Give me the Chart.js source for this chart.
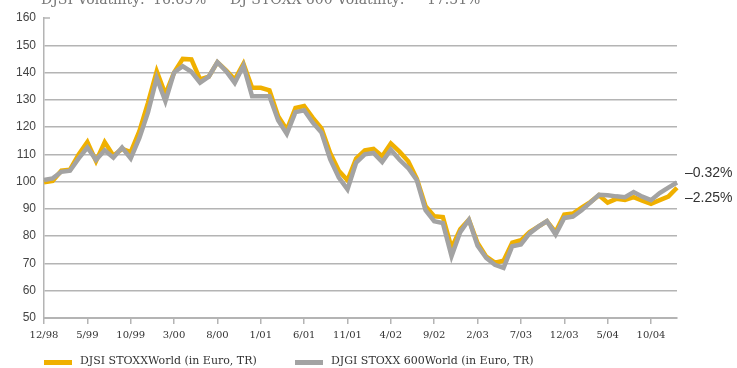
<!DOCTYPE html>
<html>
<head>
<meta charset="utf-8">
<script src="https://cdn.jsdelivr.net/npm/chart.js@4.4.1/dist/chart.umd.min.js"></script>
<style>
  html, body { margin: 0; padding: 0; background: #fff; }
  #wrap { width: 737px; height: 368px; position: relative; }
</style>
</head>
<body>
<div id="wrap"><canvas id="chart" width="737" height="368"></canvas></div>
<script>
// Index levels, month-end values from 12/98 (base 100)
const seriesNames = ['DJSI STOXXWorld (in Euro, TR)', 'DJGI STOXX 600World (in Euro, TR)'];

const djsiWorld = [
  99.8, 100.3, 104.0, 104.4, 110.0, 114.5, 107.5, 114.5, 109.5, 112.0,
  110.8, 118.5, 129.0, 140.5, 132.0, 140.0, 145.0, 144.8, 137.5, 138.5,
  143.8, 140.8, 137.4, 143.2, 134.4, 134.4, 133.5, 124.0, 119.0, 127.0,
  127.7, 123.4, 119.5, 110.5, 104.0, 100.5, 108.5, 111.5, 112.0, 109.3,
  114.0, 111.0, 107.5, 101.0, 91.0, 87.3, 87.0, 75.7, 82.5, 86.0,
  77.5, 72.5, 70.3, 71.0, 77.6, 78.5, 81.5, 83.5, 85.5, 81.5,
  87.9, 88.3, 90.5, 92.5, 95.0, 92.3, 93.7, 93.3, 94.3, 93.0,
  91.9, 93.2, 94.5, 97.75
];

const djgiStoxx600 = [
  100.6, 101.2, 103.6, 104.0, 108.5, 112.5, 108.0, 111.5, 108.8, 112.5,
  108.5, 116.0, 125.5, 138.0, 129.5, 140.0, 142.3, 140.3, 136.3, 138.5,
  143.8, 140.5, 136.2, 142.5, 131.3, 131.3, 131.3, 122.5, 117.5, 125.5,
  126.2, 121.6, 118.0, 108.2, 101.5, 97.2, 107.0, 110.0, 110.5, 107.2,
  111.7, 108.0, 105.0, 100.5, 89.5, 85.5, 84.8, 72.7, 81.5, 86.0,
  76.5, 72.0, 69.5, 68.4, 76.3, 77.0, 81.0, 83.5, 85.5, 80.6,
  86.7, 87.2, 89.5, 92.3, 95.2, 95.0, 94.6, 94.3, 96.2, 94.5,
  93.2, 95.8, 97.8, 99.68
];

const volatilityNote = ['DJSI Volatility:', '16.65%', 'DJ STOXX 600 Volatility:', '17.51%'];

// Month labels, one per data point, starting 12/98
const months = [];
for (let i = 0; i < djsiWorld.length; i++) {
  const k = 11 + i;
  const m = (k % 12) + 1;
  const y = 1998 + Math.floor(k / 12);
  months.push(m + '/' + String(y % 100).padStart(2, '0'));
}
const TICK_EVERY = 5;

const ORANGE = '#F0B000';
const GRAY = '#A3A3A3';
const GRID = '#B4B4B4';
const SERIF = '"DejaVu Serif", "Liberation Serif", serif';
const SANS = '"Liberation Sans", Arial, sans-serif';

const decorations = {
  id: 'decorations',
  afterDraw(chart) {
    const { ctx, chartArea, scales } = chart;
    const y = scales.y;
    ctx.save();

    // short stub at the top of the value axis
    const yTop = y.getPixelForValue(160);
    ctx.strokeStyle = GRID;
    ctx.lineWidth = 1.5;
    ctx.beginPath();
    ctx.moveTo(chartArea.left, yTop);
    ctx.lineTo(chartArea.left + 6, yTop);
    ctx.stroke();

    // volatility note along the top edge
    ctx.fillStyle = '#777';
    ctx.font = '14px ' + SERIF;
    ctx.textBaseline = 'alphabetic';
    ctx.textAlign = 'left';
    ctx.fillText(volatilityNote[0], 41, 4);
    ctx.fillText(volatilityNote[1], 153, 4);
    ctx.fillText(volatilityNote[2], 230, 4);
    ctx.fillText(volatilityNote[3], 427, 4);

    // period performance at the end of each line
    ctx.font = '14px ' + SANS;
    ctx.fillStyle = '#333';
    ctx.textBaseline = 'middle';
    const ends = [
      { data: djgiStoxx600, dy: -9 },
      { data: djsiWorld, dy: 10 }
    ];
    ends.forEach(e => {
      const last = e.data[e.data.length - 1];
      const txt = (last - 100).toFixed(2).replace('-', '\u2013') + '%';
      ctx.fillText(txt, chartArea.right + 8, y.getPixelForValue(last) + e.dy);
    });

    // legend
    const items = [
      { label: seriesNames[0], color: ORANGE, x: 44 },
      { label: seriesNames[1], color: GRAY, x: 295 }
    ];
    ctx.font = '11px ' + SERIF;
    items.forEach(it => {
      ctx.strokeStyle = it.color;
      ctx.lineWidth = 5;
      ctx.beginPath();
      ctx.moveTo(it.x, 362.5);
      ctx.lineTo(it.x + 28, 362.5);
      ctx.stroke();
      ctx.fillStyle = '#333';
      ctx.fillText(it.label, it.x + 36, 361);
    });
    ctx.restore();
  }
};

new Chart(document.getElementById('chart'), {
  type: 'line',
  data: {
    labels: months,
    datasets: [
      { label: seriesNames[0], data: djsiWorld, borderColor: ORANGE, borderWidth: 4.5,
        pointRadius: 0, tension: 0, borderJoinStyle: 'miter', order: 1 },
      { label: seriesNames[1], data: djgiStoxx600, borderColor: GRAY, borderWidth: 4.5,
        pointRadius: 0, tension: 0, borderJoinStyle: 'miter', order: 0 }
    ]
  },
  options: {
    responsive: false,
    animation: false,
    devicePixelRatio: 1,
    layout: { padding: { top: 18, right: 60, left: 0, bottom: 0 } },
    plugins: { legend: { display: false }, tooltip: { enabled: false } },
    scales: {
      x: {
        type: 'category',
        offset: false,
        grid: {
          drawOnChartArea: false,
          drawTicks: true,
          tickLength: 6,
          lineWidth: 1.5,
          color: c => (c.index % TICK_EVERY === 0 ? GRID : 'rgba(0,0,0,0)')
        },
        border: { display: true, color: GRID, width: 2 },
        ticks: {
          autoSkip: false,
          maxRotation: 0,
          padding: 5,
          color: '#333',
          font: { family: SERIF, size: 10 },
          callback: (v, i) => (i % TICK_EVERY === 0 ? months[i] : '')
        },
        afterFit: s => { s.height = 50; }
      },
      y: {
        min: 50,
        max: 160,
        ticks: { stepSize: 10, padding: 8, color: '#444', font: { family: SANS, size: 12 } },
        grid: {
          drawTicks: false,
          lineWidth: 1.5,
          color: c => (c.tick && c.tick.value === 160 ? 'rgba(0,0,0,0)' : GRID)
        },
        border: { display: true, color: GRID, width: 1.5 },
        afterFit: s => { s.width = 44; }
      }
    }
  },
  plugins: [decorations]
});
</script>
</body>
</html>
